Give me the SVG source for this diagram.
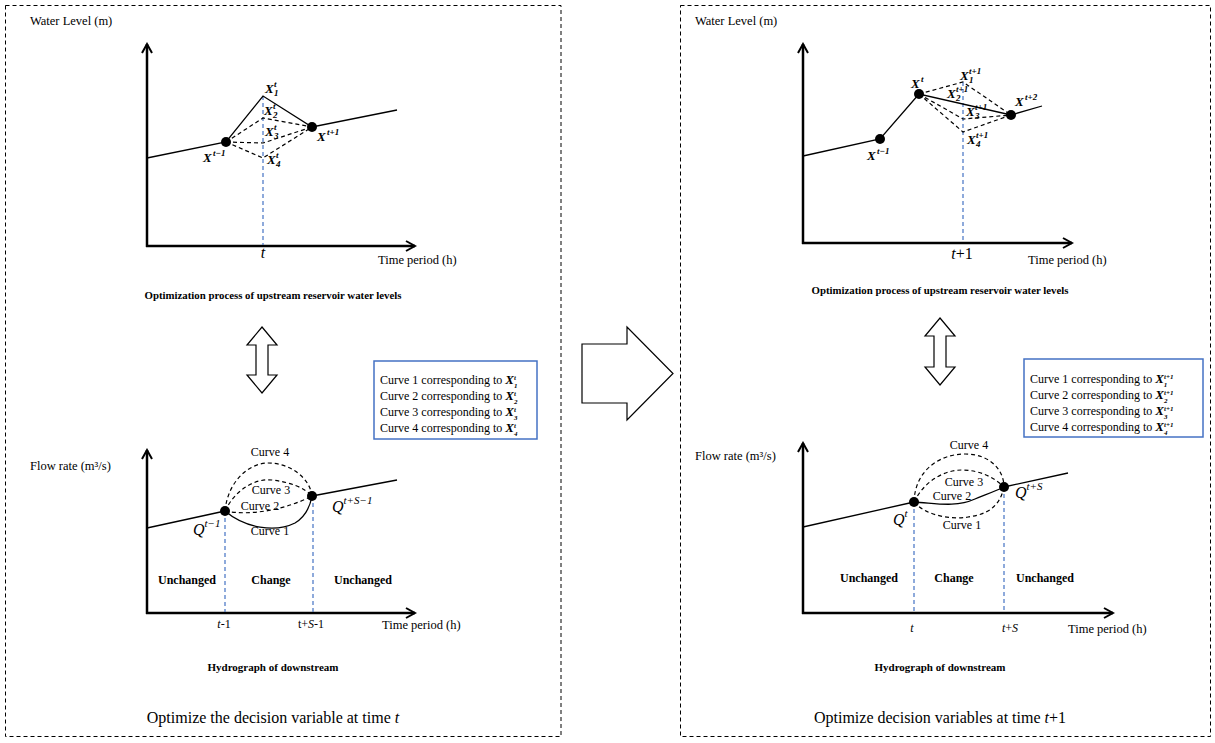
<svg xmlns="http://www.w3.org/2000/svg" width="1215" height="743" viewBox="0 0 1215 743">
<defs>
<style>
.t{font-family:"Liberation Serif",serif;font-size:12px;fill:#000}
.ax{font-size:12.5px}
.b{font-weight:bold}
.i{font-style:italic}
.ttl{font-family:"Liberation Serif",serif;font-size:10.8px;font-weight:bold;text-anchor:middle}
.cap{font-family:"Liberation Serif",serif;font-size:16px;text-anchor:middle}
.m{font-family:"Liberation Serif",serif;font-size:13px;font-weight:bold;font-style:italic}
.s{font-size:9px}
.ls{font-size:7px}
.q{font-family:"Liberation Serif",serif;font-size:16px;font-style:italic}
.qs{font-size:11px}
.mid{text-anchor:middle}
.axis{stroke:#000;stroke-width:2.5;fill:none;marker-end:url(#ah)}
.ln{stroke:#000;stroke-width:1.3;fill:none}
.dl{stroke:#000;stroke-width:1.2;fill:none;stroke-dasharray:4 3}
.bl{stroke:#4472C4;stroke-width:1.2;fill:none;stroke-dasharray:4 3}
.panel{fill:none;stroke:#000;stroke-width:1;stroke-dasharray:4 3}
.box{fill:#fff;stroke:#4472C4;stroke-width:1.5}
.hollow{fill:#fff;stroke:#000;stroke-width:1.2}
.dot{fill:#000}
</style>
<marker id="ah" viewBox="0 0 12 12" refX="10" refY="6" markerWidth="12" markerHeight="12" markerUnits="userSpaceOnUse" orient="auto">
<path d="M1,1 L10,6 L1,11" fill="none" stroke="#000" stroke-width="2"/>
</marker>
</defs>

<g id="panel-left"><rect class="panel" x="5.5" y="5.5" width="555.5" height="731"/></g>
<g id="panel-right"><rect class="panel" x="680.5" y="5.5" width="530" height="731"/></g>

<g id="connectors">
<path id="big-arrow" class="hollow" d="M582,344 H627 V327 L673,373.5 L627,420 V403 H582 Z"/>
<path id="dbl-arrow-left" class="hollow" d="M262,327 L277,345 H268 V375 H277 L262,393 L247,375 H256 V345 H247 Z"/>
<path id="dbl-arrow-right" class="hollow" d="M940,318 L955,336 H946 V367 H955 L940,385 L925,367 H934 V336 H925 Z"/>
</g>

<!-- LEFT TOP CHART -->
<g id="chart-left-top">
<text class="t ax" x="30" y="25">Water Level (m)</text>
<path class="axis" d="M147,247 V44"/>
<path class="axis" d="M146,246 H415"/>
<path class="bl" d="M263,96 V245"/>
<path class="ln" d="M147,158 L226,142 L263,96 L312,127 L397,110"/>
<path class="dl" d="M226,142 L263,118 L312,127 M226,142 L263,143 L312,127 M226,142 L263,158 L312,127"/>
<circle class="dot" cx="226" cy="142" r="5"/>
<circle class="dot" cx="312" cy="127" r="5"/>
<text class="m" x="265" y="93">X<tspan class="s" x="274" y="87">t</tspan><tspan class="s" x="274" y="96">1</tspan></text>
<text class="m" x="264" y="115">X<tspan class="s" x="273" y="109">t</tspan><tspan class="s" x="273" y="118">2</tspan></text>
<text class="m" x="265" y="136">X<tspan class="s" x="274" y="130">t</tspan><tspan class="s" x="274" y="139">3</tspan></text>
<text class="m" x="267" y="164">X<tspan class="s" x="276" y="158">t</tspan><tspan class="s" x="276" y="167">4</tspan></text>
<text class="m" x="203" y="162">X<tspan class="s" x="213" y="156">t−1</tspan></text>
<text class="m" x="317" y="141">X<tspan class="s" x="327" y="135">t+1</tspan></text>
<text class="t i mid" x="263" y="258" style="font-size:16px">t</text>
<text class="t ax" x="378" y="264">Time period (h)</text>
<text class="ttl" x="273" y="299">Optimization process of upstream reservoir water levels</text>
</g>

<!-- LEFT LEGEND -->
<g id="legend-left">
<rect class="box" x="374" y="361" width="163" height="78"/>
<text class="t" x="380" y="384">Curve 1 corresponding to <tspan class="m">X</tspan><tspan class="m ls" dy="-4">t</tspan><tspan class="m ls" dx="-2" dy="7.8">1</tspan></text>
<text class="t" x="380" y="400">Curve 2 corresponding to <tspan class="m">X</tspan><tspan class="m ls" dy="-4">t</tspan><tspan class="m ls" dx="-2" dy="7.8">2</tspan></text>
<text class="t" x="380" y="416">Curve 3 corresponding to <tspan class="m">X</tspan><tspan class="m ls" dy="-4">t</tspan><tspan class="m ls" dx="-2" dy="7.8">3</tspan></text>
<text class="t" x="380" y="432">Curve 4 corresponding to <tspan class="m">X</tspan><tspan class="m ls" dy="-4">t</tspan><tspan class="m ls" dx="-2" dy="7.8">4</tspan></text>
</g>

<!-- LEFT BOTTOM CHART -->
<g id="chart-left-bottom">
<text class="t ax" x="30" y="470">Flow rate (m³/s)</text>
<path class="axis" d="M147,614 V450"/>
<path class="axis" d="M146,613 H415"/>
<path class="bl" d="M225,511 V612 M313,496 V612"/>
<path class="ln" d="M147,528 L225,511 M312,496 L397,480"/>
<path class="ln" d="M225,511 C245,528 275,533 295,523 C305,517 310,507 312,496"/>
<path class="dl" d="M225,511 C250,516 285,510 312,496"/>
<path class="dl" d="M225,511 C235,490 255,478 272,480 C290,482 305,488 312,496"/>
<path class="dl" d="M225,511 C228,480 250,463 268,463 C290,463 310,478 312,496"/>
<circle class="dot" cx="225" cy="511" r="5"/>
<circle class="dot" cx="312" cy="496" r="5"/>
<text class="t mid" x="270" y="456">Curve 4</text>
<text class="t mid" x="271" y="494">Curve 3</text>
<text class="t mid" x="260" y="510">Curve 2</text>
<text class="t mid" x="270" y="535">Curve 1</text>
<text class="q" x="193" y="535">Q<tspan class="qs" dy="-8">t−1</tspan></text>
<text class="q" x="332" y="512">Q<tspan class="qs" dy="-8">t+S−1</tspan></text>
<text class="t b mid" x="187" y="584">Unchanged</text>
<text class="t b mid" x="271" y="584">Change</text>
<text class="t b mid" x="363" y="584">Unchanged</text>
<text class="t mid" x="224" y="628"><tspan class="i">t</tspan>-1</text>
<text class="t mid" x="311" y="628">t+<tspan class="i">S</tspan>-1</text>
<text class="t ax" x="382" y="629">Time period (h)</text>
<text class="ttl" x="273" y="671" style="font-size:11px">Hydrograph of downstream</text>
<text class="cap" x="273" y="723">Optimize the decision variable at time <tspan class="i">t</tspan></text>
</g>

<!-- RIGHT TOP CHART -->
<g id="chart-right-top">
<text class="t ax" x="695" y="25">Water Level (m)</text>
<path class="axis" d="M803,244 V44"/>
<path class="axis" d="M802,243 H1072"/>
<path class="bl" d="M963,82 V242"/>
<path class="ln" d="M803,156 L880,139 L919,94 L1011,115 L1042,106"/>
<path class="dl" d="M919,94 L963,82 L1011,115 M919,94 L963,119 L1011,115 M919,94 L963,132 L1011,115"/>
<circle class="dot" cx="880" cy="139" r="5"/>
<circle class="dot" cx="919" cy="94" r="5"/>
<circle class="dot" cx="1011" cy="115" r="5"/>
<text class="m" x="911" y="88">X<tspan class="s" x="921" y="82">t</tspan></text>
<text class="m" x="960" y="80">X<tspan class="s" x="969" y="74">t+1</tspan><tspan class="s" x="969" y="83">1</tspan></text>
<text class="m" x="947" y="98">X<tspan class="s" x="956" y="92">t+1</tspan><tspan class="s" x="956" y="101">2</tspan></text>
<text class="m" x="966" y="116">X<tspan class="s" x="975" y="110">t+1</tspan><tspan class="s" x="975" y="119">3</tspan></text>
<text class="m" x="967" y="144">X<tspan class="s" x="976" y="138">t+1</tspan><tspan class="s" x="976" y="147">4</tspan></text>
<text class="m" x="1015" y="106">X<tspan class="s" x="1025" y="100">t+2</tspan></text>
<text class="m" x="867" y="160">X<tspan class="s" x="877" y="154">t−1</tspan></text>
<text class="t mid" x="962" y="259" style="font-size:16px"><tspan class="i">t</tspan>+1</text>
<text class="t ax" x="1028" y="264">Time period (h)</text>
<text class="ttl" x="940" y="294">Optimization process of upstream reservoir water levels</text>
</g>

<!-- RIGHT LEGEND -->
<g id="legend-right">
<rect class="box" x="1024" y="359" width="179" height="78"/>
<text class="t" x="1030" y="383">Curve 1 corresponding to <tspan class="m">X</tspan><tspan class="m ls" dy="-4">t+1</tspan><tspan class="m ls" dx="-9.4" dy="7.8">1</tspan></text>
<text class="t" x="1030" y="399">Curve 2 corresponding to <tspan class="m">X</tspan><tspan class="m ls" dy="-4">t+1</tspan><tspan class="m ls" dx="-9.4" dy="7.8">2</tspan></text>
<text class="t" x="1030" y="415">Curve 3 corresponding to <tspan class="m">X</tspan><tspan class="m ls" dy="-4">t+1</tspan><tspan class="m ls" dx="-9.4" dy="7.8">3</tspan></text>
<text class="t" x="1030" y="431">Curve 4 corresponding to <tspan class="m">X</tspan><tspan class="m ls" dy="-4">t+1</tspan><tspan class="m ls" dx="-9.4" dy="7.8">4</tspan></text>
</g>

<!-- RIGHT BOTTOM CHART -->
<g id="chart-right-bottom">
<text class="t ax" x="695" y="460">Flow rate (m³/s)</text>
<path class="axis" d="M803,614 V443"/>
<path class="axis" d="M802,613 H1113"/>
<path class="bl" d="M914,502 V612 M1004,487 V612"/>
<path class="ln" d="M803,527 L914,502 M1004,487 L1068,473"/>
<path class="ln" d="M914,502 C935,503 955,508 975,499 C990,493 998,490 1004,487"/>
<path class="dl" d="M914,502 C925,515 950,520 968,517 C990,514 1000,505 1004,487"/>
<path class="dl" d="M914,502 C925,480 945,470 962,470 C980,470 995,478 1004,487"/>
<path class="dl" d="M914,502 C915,470 940,454 965,454 C990,454 1004,470 1004,487"/>
<circle class="dot" cx="914" cy="502" r="5"/>
<circle class="dot" cx="1004" cy="487" r="5"/>
<text class="t mid" x="969" y="449">Curve 4</text>
<text class="t mid" x="964" y="486">Curve 3</text>
<text class="t mid" x="952" y="500">Curve 2</text>
<text class="t mid" x="962" y="529">Curve 1</text>
<text class="q" x="893" y="525">Q<tspan class="qs" dy="-8">t</tspan></text>
<text class="q" x="1015" y="498">Q<tspan class="qs" dy="-8">t+S</tspan></text>
<text class="t b mid" x="869" y="582">Unchanged</text>
<text class="t b mid" x="954" y="582">Change</text>
<text class="t b mid" x="1045" y="582">Unchanged</text>
<text class="t mid i" x="912" y="632">t</text>
<text class="t mid" x="1010" y="632"><tspan class="i">t</tspan>+<tspan class="i">S</tspan></text>
<text class="t ax" x="1068" y="633">Time period (h)</text>
<text class="ttl" x="940" y="671" style="font-size:11px">Hydrograph of downstream</text>
<text class="cap" x="940" y="723">Optimize decision variables at time <tspan class="i">t</tspan>+1</text>
</g>
</svg>
